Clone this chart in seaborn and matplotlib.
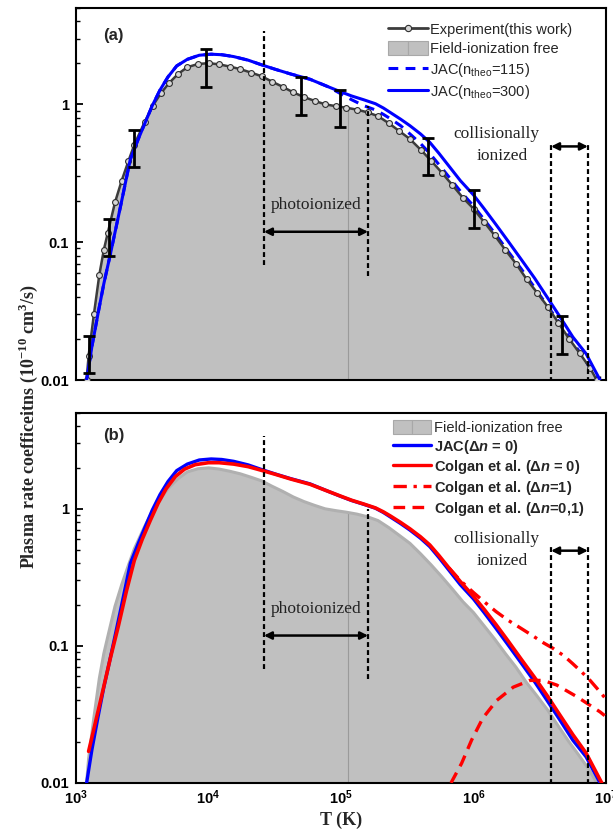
import numpy as np
import matplotlib
matplotlib.use("Agg")
import matplotlib.pyplot as plt
import seaborn as sns
from matplotlib.lines import Line2D
from matplotlib.patches import Patch
from matplotlib.legend_handler import HandlerTuple
from matplotlib.ticker import LogLocator, NullFormatter

# ---- values: log10(T/K) and rate (1e-10 cm^3/s) ----
exp_logT = [3.08, 3.095, 3.135, 3.176, 3.21, 3.239, 3.294, 3.345, 3.395, 3.44,
            3.517, 3.58, 3.64, 3.70, 3.77, 3.84, 3.92, 4.00, 4.08, 4.16,
            4.24, 4.32, 4.40, 4.48, 4.56, 4.64, 4.72, 4.80, 4.88, 4.96,
            5.04, 5.12, 5.20, 5.28, 5.36, 5.44, 5.52, 5.60, 5.68, 5.76,
            5.84, 5.92, 6.00, 6.08, 6.16, 6.24, 6.32, 6.40, 6.48, 6.56,
            6.64, 6.72, 6.80, 6.88, 6.93]
exp_rate = [0.0100, 0.0150, 0.030, 0.058, 0.088, 0.116, 0.194, 0.28, 0.386, 0.51,
            0.74, 0.98, 1.20, 1.42, 1.66, 1.86, 1.96, 1.99, 1.95, 1.88,
            1.80, 1.70, 1.60, 1.46, 1.34, 1.22, 1.13, 1.06, 1.00, 0.97,
            0.945, 0.915, 0.875, 0.82, 0.73, 0.64, 0.56, 0.47, 0.39, 0.32,
            0.26, 0.21, 0.175, 0.14, 0.112, 0.088, 0.070, 0.054, 0.043, 0.034,
            0.026, 0.020, 0.0157, 0.0122, 0.0100]

# experimental error bars
err_logT = [3.10, 3.25, 3.438, 3.98, 4.70, 4.99, 5.655, 6.00, 6.67]
err_mid = [0.0145, 0.11, 0.48, 1.90, 1.16, 0.95, 0.42, 0.175, 0.021]
err_lo = [0.0112, 0.079, 0.35, 1.34, 0.84, 0.68, 0.305, 0.127, 0.0155]
err_hi = [0.0209, 0.148, 0.65, 2.54, 1.58, 1.27, 0.573, 0.238, 0.029]

jac300_logT = [3.08, 3.12, 3.168, 3.21, 3.257, 3.30, 3.345, 3.41, 3.47, 3.52,
               3.576, 3.634, 3.694, 3.76, 3.84, 3.93, 4.02, 4.10, 4.19, 4.30,
               4.39, 4.50, 4.62, 4.766, 4.90, 5.00, 5.08, 5.17, 5.26, 5.32,
               5.374, 5.45, 5.52, 5.60, 5.67, 5.74, 5.815, 5.90, 6.00, 6.08,
               6.17, 6.26, 6.36, 6.46, 6.555, 6.65, 6.75, 6.85, 6.955]
jac300_rate = [0.0100, 0.0175, 0.031, 0.050, 0.080, 0.125, 0.20, 0.40, 0.56, 0.73,
               0.98, 1.27, 1.58, 1.90, 2.12, 2.27, 2.31, 2.29, 2.22, 2.09,
               1.95, 1.80, 1.66, 1.52, 1.345, 1.23, 1.15, 1.08, 1.01, 0.94,
               0.87, 0.78, 0.70, 0.61, 0.53, 0.44, 0.356, 0.28, 0.22, 0.175,
               0.134, 0.102, 0.075, 0.055, 0.040, 0.029, 0.0205, 0.0155, 0.0100]

jac115_logT = [3.08, 3.12, 3.168, 3.21, 3.257, 3.30, 3.345, 3.41, 3.47, 3.52,
               3.576, 3.634, 3.694, 3.76, 3.84, 3.93, 4.02, 4.10, 4.19, 4.30,
               4.39, 4.50, 4.62, 4.766, 4.90, 5.00, 5.08, 5.17, 5.26, 5.32,
               5.374, 5.45, 5.52, 5.60, 5.67, 5.74, 5.815, 5.90, 6.00, 6.08,
               6.17, 6.26, 6.36, 6.46, 6.555, 6.65, 6.75, 6.85, 6.935]
jac115_rate = [0.0100, 0.0175, 0.031, 0.050, 0.080, 0.125, 0.20, 0.40, 0.56, 0.73,
               0.98, 1.27, 1.58, 1.90, 2.12, 2.27, 2.31, 2.29, 2.22, 2.09,
               1.95, 1.80, 1.66, 1.52, 1.345, 1.19, 1.08, 0.98, 0.91, 0.845,
               0.785, 0.70, 0.61, 0.52, 0.44, 0.365, 0.297, 0.235, 0.183, 0.146,
               0.113, 0.086, 0.064, 0.047, 0.0348, 0.026, 0.0188, 0.0136, 0.0100]

colgan0_logT = [3.095, 3.14, 3.20, 3.26, 3.32, 3.38, 3.44, 3.50, 3.56, 3.62,
                3.68, 3.75, 3.82, 3.90, 4.00, 4.08, 4.19, 4.30, 4.39, 4.50,
                4.62, 4.766, 4.90, 5.00, 5.08, 5.17, 5.26, 5.32, 5.374, 5.45,
                5.52, 5.60, 5.67, 5.74, 5.815, 5.90, 6.00, 6.08, 6.17, 6.26,
                6.36, 6.46, 6.555, 6.65, 6.75, 6.85, 6.968]
colgan0_rate = [0.0170, 0.026, 0.046, 0.082, 0.14, 0.25, 0.42, 0.60, 0.82, 1.10,
                1.40, 1.72, 1.95, 2.10, 2.17, 2.17, 2.12, 2.03, 1.92, 1.79,
                1.65, 1.51, 1.345, 1.235, 1.155, 1.085, 1.015, 0.95, 0.885, 0.795,
                0.715, 0.625, 0.545, 0.455, 0.37, 0.295, 0.23, 0.185, 0.143, 0.109,
                0.080, 0.059, 0.0435, 0.0315, 0.0225, 0.0165, 0.0100]

colgan1_logT = [5.815, 5.90, 6.00, 6.08, 6.17, 6.26, 6.36, 6.45, 6.53, 6.60,
                6.68, 6.75, 6.82, 6.88, 6.94, 6.99]
colgan1_rate = [0.37, 0.30, 0.245, 0.21, 0.178, 0.154, 0.134, 0.118, 0.105, 0.096,
                0.085, 0.074, 0.064, 0.056, 0.048, 0.042]

colgan01_logT = [5.83, 5.91, 5.986, 6.07, 6.175, 6.30, 6.426, 6.527, 6.628, 6.78,
                 6.955, 6.99]
colgan01_rate = [0.0100, 0.0139, 0.0206, 0.0297, 0.040, 0.050, 0.056, 0.056, 0.0518, 0.0426,
                 0.033, 0.031]

x_ticks = [1e3, 1e4, 1e5, 1e6, 1e7]
x_tick_labels = [r"$\mathdefault{10^{3}}$", r"$\mathdefault{10^{4}}$", r"$\mathdefault{10^{5}}$",
                 r"$\mathdefault{10^{6}}$", r"$\mathdefault{10^{7}}$"]
y_ticks = [0.01, 0.1, 1]
y_tick_labels = ["0.01", "0.1", "1"]

# region markers (T in K)
photo_bounds = [2.62e4, 1.6e5]
coll_bounds = [3.85e6, 7.3e6]
split_T = 1.12e5

legend_a = ["Experiment(this work)", "Field-ionization free",
            r"JAC(n$_\mathregular{theo}$=115)", r"JAC(n$_\mathregular{theo}$=300)"]
legend_b = ["Field-ionization free", r"JAC(Δ$n$ = 0)", r"Colgan et al. (Δ$n$ = 0)",
            r"Colgan et al. (Δ$n$=1)", r"Colgan et al. (Δ$n$=0,1)"]

sns.set_style("ticks")
plt.rcParams["font.family"] = ["Liberation Sans", "DejaVu Sans"]
plt.rcParams["mathtext.fontset"] = "custom"
plt.rcParams["mathtext.rm"] = "Liberation Sans"
plt.rcParams["mathtext.it"] = "Liberation Sans:italic:bold"
plt.rcParams["mathtext.bf"] = "Liberation Sans:bold"
plt.rcParams["axes.edgecolor"] = "black"
plt.rcParams["xtick.color"] = "black"
plt.rcParams["ytick.color"] = "black"

BLUE = "#0000ff"
RED = "#ff0000"
FILL = "#c0c0c0"
SERIF = "Liberation Serif"


def T(logs):
    return 10 ** np.asarray(logs, dtype=float)


def curve(ax, logs, vals, color, lw, dashes=None, zorder=3, **kw):
    sns.lineplot(x=T(logs), y=np.asarray(vals), ax=ax, color=color, linewidth=lw,
                 estimator=None, sort=False, legend=False, zorder=zorder, **kw)
    line = ax.lines[-1]
    if dashes is not None:
        line.set_dashes(dashes)
    return line


def setup_axes(ax, show_x):
    ax.set_xscale("log")
    ax.set_yscale("log")
    ax.set_yticks(y_ticks, labels=y_tick_labels, fontweight="bold", fontsize=10.5)
    if show_x:
        ax.set_xticks(x_ticks, labels=x_tick_labels, fontweight="bold", fontsize=10.5)
    else:
        ax.set_xticks(x_ticks, labels=[""] * len(x_ticks))
    ax.xaxis.set_minor_locator(LogLocator(base=10, subs=np.arange(2, 10), numticks=20))
    ax.yaxis.set_minor_locator(LogLocator(base=10, subs=np.arange(2, 10), numticks=20))
    ax.xaxis.set_minor_formatter(NullFormatter())
    ax.yaxis.set_minor_formatter(NullFormatter())
    ax.set_xlim(1e3, 1e7)
    ax.set_ylim(0.01, 5)
    ax.tick_params(which="both", direction="in", top=False, right=False)
    ax.tick_params(which="major", length=5, width=1.3)
    ax.tick_params(axis="y", which="major", pad=5)
    ax.tick_params(axis="x", which="major", pad=4)
    ax.tick_params(which="minor", length=3, width=1.0)
    for s in ax.spines.values():
        s.set_linewidth(1.5)
        s.set_color("black")


def regions(ax, photo_top):
    kw = dict(color="black", lw=1.6, dashes=(2.2, 1.4), zorder=6)
    arrow = dict(arrowstyle="<|-|>", color="black", lw=1.8, mutation_scale=11,
                 shrinkA=0, shrinkB=0)
    ax.plot([photo_bounds[0]] * 2, [0.068, 3.4], **kw)
    ax.plot([photo_bounds[1]] * 2, [0.057, photo_top], **kw)
    ax.annotate("", xy=(photo_bounds[0], 0.119), xytext=(photo_bounds[1], 0.119),
                arrowprops=arrow, zorder=6)
    ax.text(6.5e4, 0.185, "photoionized", ha="center", va="center",
            family=SERIF, fontsize=12.5, color="#222222", zorder=7)
    ax.plot([coll_bounds[0]] * 2, [0.005, 0.53], **kw)
    ax.plot([coll_bounds[1]] * 2, [0.005, 0.53], **kw)
    ax.annotate("", xy=(coll_bounds[0], 0.495), xytext=(coll_bounds[1], 0.495),
                arrowprops=arrow, zorder=6)
    ax.text(1.48e6, 0.605, "collisionally", ha="center", va="center",
            family=SERIF, fontsize=12.5, color="#222222", zorder=7)
    ax.text(1.64e6, 0.419, "ionized", ha="center", va="center",
            family=SERIF, fontsize=12.5, color="#222222", zorder=7)


fig = plt.figure(figsize=(6.13, 8.31), dpi=100)
ax_a = fig.add_axes([0.124, 0.5427, 0.8646, 0.4477])
ax_b = fig.add_axes([0.124, 0.0578, 0.8646, 0.4452])

fill_patch = lambda: Patch(facecolor=FILL, edgecolor="#a8a8a8", linewidth=0.8)
tuple_handler = {tuple: HandlerTuple(ndivide=None, pad=0)}

# ---------------- panel (a) ----------------
ax_a.fill_between(T(exp_logT), 0.005, exp_rate, color=FILL, linewidth=0, zorder=1)
ax_a.plot([split_T, split_T], [0.005, 0.93], color="#9a9a9a", lw=0.8, zorder=1.5)
curve(ax_a, jac115_logT, jac115_rate, BLUE, 2.2, dashes=(3.2, 2.4), zorder=2.8)
curve(ax_a, exp_logT, exp_rate, "#3c3c3c", 1.8, zorder=3,
      marker="o", markersize=4.2, markerfacecolor="#d6d6d6",
      markeredgecolor="#2e2e2e", markeredgewidth=0.8)
curve(ax_a, jac300_logT, jac300_rate, BLUE, 2.2, zorder=4)
mid = np.asarray(err_mid)
ax_a.errorbar(T(err_logT), mid, yerr=[mid - np.asarray(err_lo), np.asarray(err_hi) - mid],
              fmt="none", ecolor="black", elinewidth=2.0, capsize=4, capthick=2.0, zorder=5)
setup_axes(ax_a, show_x=False)
regions(ax_a, 0.98)
ax_a.text(0.051, 0.927, "(a)", transform=ax_a.transAxes, fontweight="bold",
          fontsize=12, ha="left", va="center")

h_a = [Line2D([], [], color="#3c3c3c", lw=2, marker="o", ms=4.5, mfc="#d6d6d6",
              mec="#2e2e2e", mew=0.8),
       (fill_patch(), fill_patch()),
       Line2D([], [], color=BLUE, lw=2.2, dashes=(3.2, 2.4)),
       Line2D([], [], color=BLUE, lw=2.2)]
ax_a.legend(h_a, legend_a, handler_map=tuple_handler, loc="upper left",
            bbox_to_anchor=(0.589, 0.962), frameon=False, fontsize=10.5,
            handlelength=2.7, handleheight=1.1, handletextpad=0.15,
            labelspacing=0.3, borderpad=0, borderaxespad=0, numpoints=1)

# ---------------- panel (b) ----------------
ax_b.fill_between(T(exp_logT), 0.005, exp_rate, color=FILL, linewidth=0, zorder=1)
ax_b.plot([split_T, split_T], [0.005, 0.93], color="#9a9a9a", lw=0.8, zorder=1.5)
curve(ax_b, exp_logT, exp_rate, "#b0b0b0", 2.2, zorder=1.8)
curve(ax_b, jac300_logT, jac300_rate, BLUE, 2.4, zorder=3)
curve(ax_b, colgan1_logT, colgan1_rate, RED, 2.4, dashes=(4, 2, 1, 2), zorder=3.2)
curve(ax_b, colgan01_logT, colgan01_rate, RED, 2.4, dashes=(3.5, 2.2), zorder=3.2)
curve(ax_b, colgan0_logT, colgan0_rate, RED, 2.6, zorder=3.5)
setup_axes(ax_b, show_x=True)
regions(ax_b, 1.0)
ax_b.text(0.051, 0.94, "(b)", transform=ax_b.transAxes, fontweight="bold",
          fontsize=12, ha="left", va="center")

h_b = [(fill_patch(), fill_patch()),
       Line2D([], [], color=BLUE, lw=2.4),
       Line2D([], [], color=RED, lw=2.4),
       Line2D([], [], color=RED, lw=2.4, dashes=(4, 2, 1, 2)),
       Line2D([], [], color=RED, lw=2.4, dashes=(3.5, 2.2))]
leg_b = ax_b.legend(h_b, legend_b, handler_map=tuple_handler, loc="upper left",
                    bbox_to_anchor=(0.598, 0.982), frameon=False, fontsize=10.5,
                    handlelength=2.6, handleheight=1.1, handletextpad=0.2,
                    labelspacing=0.2, borderpad=0, borderaxespad=0)
for t in leg_b.get_texts()[1:]:
    t.set_fontweight("bold")

ax_b.set_xlabel("T (K)", family=SERIF, fontweight="bold", fontsize=13, labelpad=3)
fig.text(0.046, 0.486,
         r"Plasma rate coefficeitns (10$^{\mathregular{-10}}$ cm$^{\mathregular{3}}$/s)",
         rotation=90, ha="center", va="center", family=SERIF, fontweight="bold",
         fontsize=13)

fig.savefig("out.png", dpi=100)
